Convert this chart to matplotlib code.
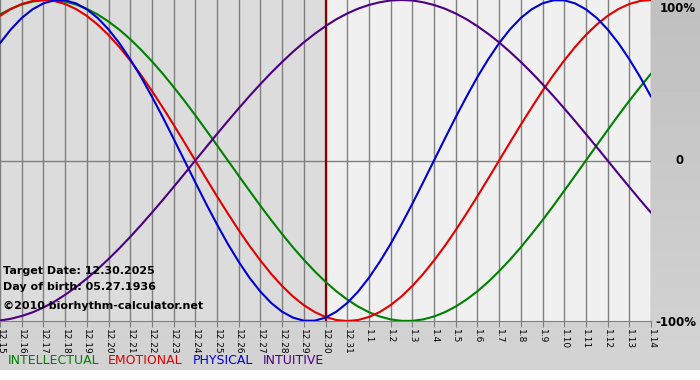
import numpy as np
import matplotlib
matplotlib.use("Agg")
import matplotlib.pyplot as plt

# days 12.15 .. 1.14, target day 12.30
day_labels = ["12.15", "12.16", "12.17", "12.18", "12.19", "12.20", "12.21", "12.22",
              "12.23", "12.24", "12.25", "12.26", "12.27", "12.28", "12.29", "12.30",
              "12.31", "1.1", "1.2", "1.3", "1.4", "1.5", "1.6", "1.7", "1.8", "1.9",
              "1.10", "1.11", "1.12", "1.13", "1.14"]
target_idx = 15

# values read every half day, from 12.15 to 1.14
intellectual = [0.910, 0.945, 0.972, 0.990, 0.999, 0.999, 0.990, 0.972, 0.945, 0.910,
                0.866, 0.815, 0.756, 0.690, 0.618, 0.541, 0.458, 0.372, 0.282, 0.189,
                0.095, 0.000, -0.095, -0.189, -0.282, -0.372, -0.458, -0.541, -0.618, -0.690,
                -0.756, -0.815, -0.866, -0.910, -0.945, -0.972, -0.990, -0.999, -0.999, -0.990,
                -0.972, -0.945, -0.910, -0.866, -0.815, -0.756, -0.690, -0.618, -0.541, -0.458,
                -0.372, -0.282, -0.189, -0.095, 0.000, 0.095, 0.189, 0.282, 0.372, 0.458,
                0.541]
emotional = [0.901, 0.944, 0.975, 0.994, 1.000, 0.994, 0.975, 0.944, 0.901, 0.847,
             0.782, 0.707, 0.623, 0.532, 0.434, 0.330, 0.223, 0.112, 0.000, -0.112,
             -0.223, -0.330, -0.434, -0.532, -0.623, -0.707, -0.782, -0.847, -0.901, -0.944,
             -0.975, -0.994, -1.000, -0.994, -0.975, -0.944, -0.901, -0.847, -0.782, -0.707,
             -0.623, -0.532, -0.434, -0.330, -0.223, -0.112, 0.000, 0.112, 0.223, 0.330,
             0.434, 0.532, 0.623, 0.707, 0.782, 0.847, 0.901, 0.944, 0.975, 0.994,
             1.000]
physical = [0.731, 0.817, 0.888, 0.942, 0.979, 0.998, 0.998, 0.979, 0.942, 0.888,
            0.817, 0.731, 0.631, 0.520, 0.398, 0.270, 0.136, 0.000, -0.136, -0.270,
            -0.398, -0.520, -0.631, -0.731, -0.817, -0.888, -0.942, -0.979, -0.998, -0.998,
            -0.979, -0.942, -0.888, -0.817, -0.731, -0.631, -0.520, -0.398, -0.270, -0.136,
            0.000, 0.136, 0.270, 0.398, 0.520, 0.631, 0.731, 0.817, 0.888, 0.942,
            0.979, 0.998, 0.998, 0.979, 0.942, 0.888, 0.817, 0.731, 0.631, 0.520,
            0.398]
intuitive = [-0.997, -0.986, -0.969, -0.946, -0.916, -0.880, -0.837, -0.789, -0.736, -0.677,
             -0.614, -0.547, -0.476, -0.402, -0.325, -0.246, -0.165, -0.083, 0.000, 0.083,
             0.165, 0.246, 0.325, 0.402, 0.476, 0.547, 0.614, 0.677, 0.736, 0.789,
             0.837, 0.880, 0.916, 0.946, 0.969, 0.986, 0.997, 1.000, 0.997, 0.986,
             0.969, 0.946, 0.916, 0.880, 0.837, 0.789, 0.736, 0.677, 0.614, 0.547,
             0.476, 0.402, 0.325, 0.246, 0.165, 0.083, 0.000, -0.083, -0.165, -0.246,
             -0.325]

names = ["INTELLECTUAL", "EMOTIONAL", "PHYSICAL", "INTUITIVE"]
colors = ["#008000", "#e00000", "#0000d0", "#4b0082"]

W, H = 700, 380
fig = plt.figure(figsize=(W / 100, H / 100), dpi=100, facecolor="white")

# grey gradient background
bg = fig.add_axes([0, 10 / H, 1, 370 / H])
grad = np.linspace(0.75, 0.83, 100).reshape(-1, 1)
bg.imshow(grad, aspect="auto", cmap="gray", vmin=0, vmax=1, extent=[0, 1, 0, 1])
bg.axis("off")

ax = fig.add_axes([0, (H - 321) / H, 651 / W, 321 / H])
x = np.arange(len(day_labels))
xs = np.linspace(0, len(day_labels) - 1, len(physical))
ax.set_xlim(0, len(day_labels) - 1)
ax.set_ylim(-1.0, 1.0)
ax.axvspan(0, target_idx, color="#dcdcdc", zorder=0)
ax.axvspan(target_idx, len(day_labels) - 1, color="#f0f0f0", zorder=0)

for xi in x:
    ax.axvline(xi, color="#808080", lw=1, zorder=1)
ax.axhline(0, color="#808080", lw=1, zorder=1)
ax.axvline(target_idx, color="#800000", lw=1.6, zorder=2)

for vals, c in zip([intellectual, emotional, physical, intuitive], colors):
    ax.plot(xs, vals, color=c, lw=1.5, zorder=3, solid_capstyle="round")

ax.set_xticks(x)
ax.set_xticklabels(day_labels, rotation=-90, fontsize=6.5)
ax.tick_params(axis="x", direction="out", length=4, color="#808080", pad=2)
ax.set_yticks([])
for s in ["top", "right", "left"]:
    ax.spines[s].set_visible(False)
ax.spines["bottom"].set_color("#808080")

# right side percent labels
fs = dict(fontsize=8.5, fontweight="bold", color="black")
fig.text(660 / W, 1 - 2 / H, "100%", va="top", ha="left", **fs)
fig.text(676 / W, 1 - 161 / H, "0", va="center", ha="left", **fs)
fig.text(655 / W, 1 - 322 / H, "-100%", va="center", ha="left", **fs)

# info text
info = dict(fontsize=8, fontweight="bold", color="black", zorder=5)
fig.text(3 / W, 1 - 271 / H, "Target Date: 12.30.2025", va="center", ha="left", **info)
fig.text(3 / W, 1 - 287 / H, "Day of birth: 05.27.1936", va="center", ha="left", **info)
fig.text(3 / W, 1 - 306 / H, "\u00a92010 biorhythm-calculator.net", va="center", ha="left", **info)

# legend
lx = [8, 108, 193, 263]
for name, c, px in zip(names, colors, lx):
    fig.text(px / W, 1 - 361 / H, name, color=c, fontsize=9, va="center", ha="left")

fig.savefig("out.png", dpi=100, facecolor=fig.get_facecolor())
